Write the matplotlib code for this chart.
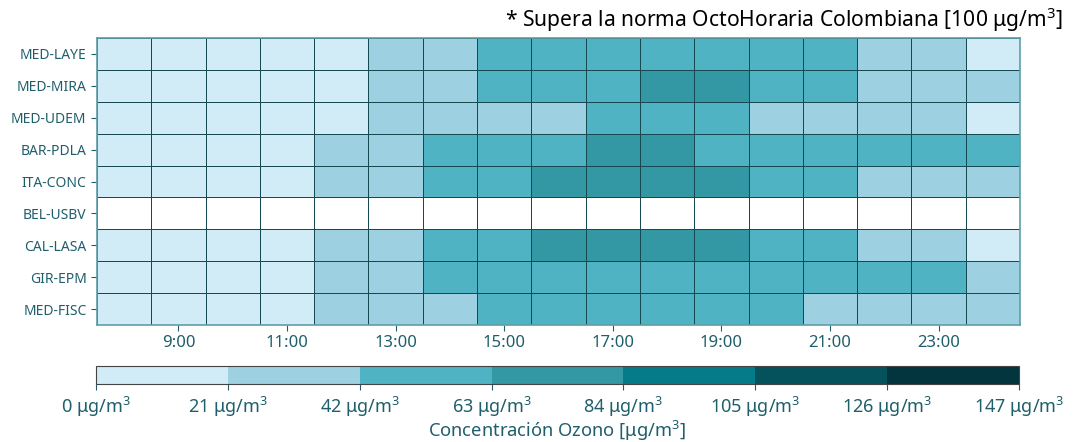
import numpy as np
import matplotlib
matplotlib.use("Agg")
import matplotlib.pyplot as plt
from matplotlib.colors import ListedColormap, BoundaryNorm

stations = ["MED-LAYE", "MED-MIRA", "MED-UDEM", "BAR-PDLA", "ITA-CONC",
            "BEL-USBV", "CAL-LASA", "GIR-EPM", "MED-FISC"]
hours = list(range(8, 25))
xtick_hours = [9, 11, 13, 15, 17, 19, 21, 23]
xtick_labels = ["9:00", "11:00", "13:00", "15:00", "17:00", "19:00", "21:00", "23:00"]

med_laye = [8, 10, 12, 15, 19, 28, 36, 45, 50, 55, 57, 58, 54, 48, 35, 27, 18]
med_mira = [7, 9, 11, 14, 18, 27, 35, 47, 53, 60, 66, 68, 59, 50, 37, 30, 24]
med_udem = [6, 8, 10, 13, 17, 25, 32, 39, 41, 46, 50, 49, 40, 36, 31, 25, 19]
bar_pdla = [9, 11, 14, 18, 24, 33, 44, 52, 60, 66, 67, 62, 56, 53, 50, 47, 44]
ita_conc = [8, 10, 13, 17, 23, 31, 43, 52, 64, 69, 70, 66, 58, 50, 40, 34, 30]
bel_usbv = [np.nan] * 17
cal_lasa = [7, 9, 12, 16, 22, 30, 44, 54, 65, 70, 71, 67, 57, 49, 38, 29, 20]
gir_epm = [8, 10, 13, 17, 24, 32, 45, 53, 58, 61, 62, 59, 55, 51, 47, 43, 38]
med_fisc = [7, 9, 12, 16, 22, 29, 37, 46, 52, 57, 59, 55, 47, 40, 33, 28, 24]

data = np.array([med_laye, med_mira, med_udem, bar_pdla, ita_conc,
                 bel_usbv, cal_lasa, gir_epm, med_fisc], dtype=float)

bounds = [0, 21, 42, 63, 84, 105, 126, 147]
colors = ["#d1ebf7", "#9dd1e1", "#50b3c4", "#3497a4", "#057b89", "#06525c", "#02353d"]
cbar_labels = [f"{b} μg/m$^3$" for b in bounds]

tick_color = "#1f5f6b"
plt.rcParams['font.family'] = ['Noto Sans', 'DejaVu Sans']
plt.rcParams['mathtext.fontset'] = 'custom'
plt.rcParams['mathtext.rm'] = 'Noto Sans'

cmap = ListedColormap(colors)
cmap.set_bad("white")
norm = BoundaryNorm(bounds, cmap.N)

fig = plt.figure(figsize=(10.76, 4.42), dpi=100)
ax = fig.add_axes([97/1076, 1 - 325/442, (1020-97)/1076, (325-38)/442])

x_edges = np.arange(hours[0] - 0.5, hours[-1] + 1.0, 1.0)
y_edges = np.arange(len(stations) + 1) - 0.5
masked = np.ma.masked_invalid(data)
mesh = ax.pcolormesh(x_edges, y_edges, masked, cmap=cmap, norm=norm,
                     edgecolors="#164a53", linewidth=0.6)
ax.set_ylim(len(stations) - 0.5, -0.5)
ax.set_xlim(x_edges[0], x_edges[-1])
ax.set_yticks(range(len(stations)))
ax.set_yticklabels(stations, fontsize=10, color=tick_color)
ax.set_xticks(xtick_hours)
ax.set_xticklabels(xtick_labels, fontsize=12, color=tick_color)
ax.tick_params(axis="both", colors=tick_color, length=4, width=0.8)
for s in ax.spines.values():
    s.set_color("#5f9ea8")
    s.set_linewidth(1.2)

fig.text(1063/1076, 1 - 20/442, "* Supera la norma OctoHoraria Colombiana [100 μg/m$^3$]",
         ha="right", va="center", fontsize=15.2, color="black")

cax = fig.add_axes([96/1076, 1 - 384/442, (1019-96)/1076, 18/442])
cb = fig.colorbar(mesh, cax=cax, orientation="horizontal", ticks=bounds)
cb.ax.set_xticklabels(cbar_labels, fontsize=13, color=tick_color)
cb.ax.tick_params(colors=tick_color, length=4)
cb.outline.set_edgecolor("#444444")
cb.set_label("Concentración Ozono [μg/m$^3$]", fontsize=13.2, color=tick_color, labelpad=0)

fig.savefig("out.png", dpi=100)
